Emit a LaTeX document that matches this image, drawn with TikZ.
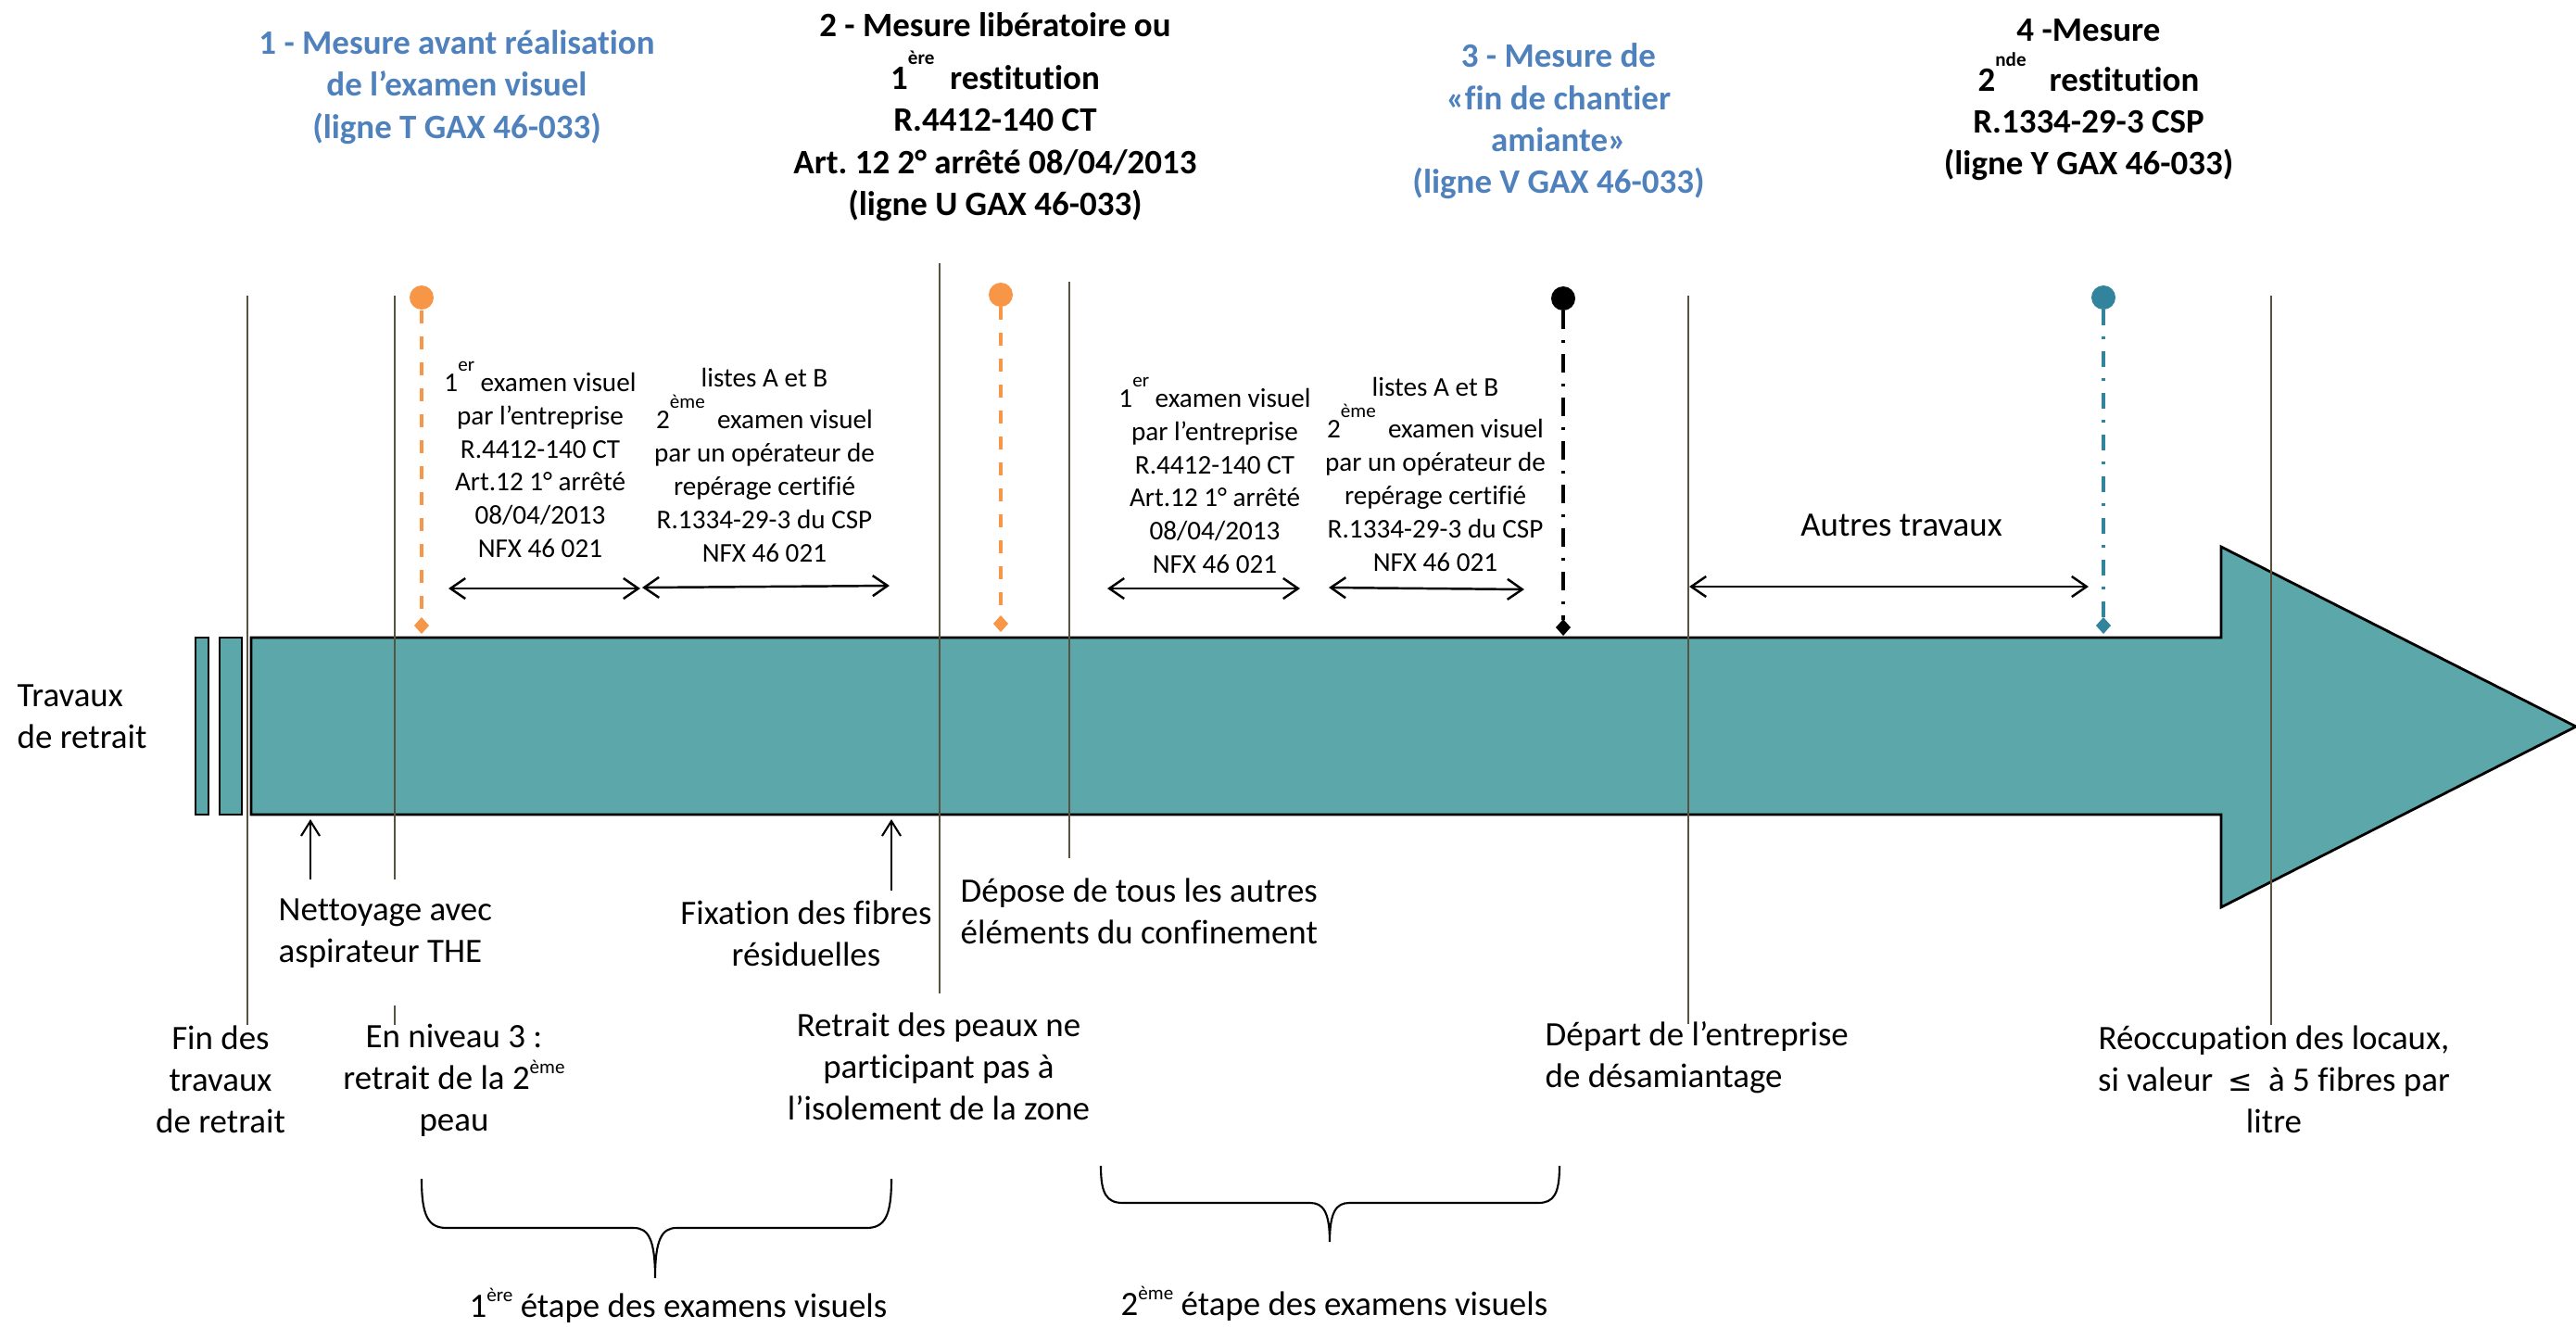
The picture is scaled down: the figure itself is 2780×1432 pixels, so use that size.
\documentclass[tikz,border=0pt]{standalone}
\usepackage{fontspec}
\setmainfont{Carlito}[Ligatures=NoCommon]
\newfontfamily\symfont{DejaVu Sans}
\usetikzlibrary{arrows.meta}
\frenchspacing
\definecolor{bodyteal}{HTML}{5CA7A9}
\definecolor{mkorange}{HTML}{F79646}
\definecolor{mkteal}{HTML}{31849B}
\definecolor{ttlblue}{HTML}{4F81BD}
\definecolor{olive}{HTML}{57533F}
\newcommand{\supr}[2]{\smash{\raisebox{#1}{\fontsize{6}{6}\selectfont #2}}}
\tikzset{
  lbl/.style={font=\fontsize{10.5}{12.8}\selectfont, align=center, inner sep=0pt},
  lbll/.style={font=\fontsize{10.5}{12.8}\selectfont, align=left, inner sep=0pt, anchor=west},
  smallblk/.style={font=\fontsize{8.3}{10.2}\selectfont, align=center, inner sep=0pt},
  ttl/.style={font=\bfseries\fontsize{10.5}{12.9}\selectfont, align=center, inner sep=0pt},
  tick/.style={draw=olive, line width=0.55pt},
  dbl/.style={draw=black, line width=0.7pt, {Straight Barb[length=0.16cm,width=0.22cm]}-{Straight Barb[length=0.16cm,width=0.22cm]}},
  upar/.style={draw=black, line width=0.6pt, -{Straight Barb[length=0.16cm,width=0.2cm]}},
  brc/.style={draw=black, line width=0.6pt},
  dashorange/.style={draw=mkorange, line width=1.1pt, dash pattern=on 0.14cm off 0.14cm},
  dashblack/.style={draw=black, line width=1.2pt, dash pattern=on 0.2cm off 0.12cm on 0.03cm off 0.12cm},
  dashteal/.style={draw=mkteal, line width=1.1pt, dash pattern=on 0.17cm off 0.12cm on 0.03cm off 0.13cm},
}
\begin{document}
\begin{tikzpicture}[x=0.01cm,y=-0.01cm]
\useasboundingbox (0,0) rectangle (2780,1432);

% big arrow
\filldraw[fill=bodyteal, draw=black, line width=0.8pt]
  (271,688) -- (2397,688) -- (2397,590) -- (2780,784) -- (2397,979) -- (2397,879) -- (271,879) -- cycle;
\filldraw[fill=bodyteal, draw=black, line width=0.8pt] (211,688) rectangle (225,879);
\filldraw[fill=bodyteal, draw=black, line width=0.8pt] (237,688) rectangle (261,879);

% vertical ticks
\draw[tick] (267,319) -- (267,1106);
\draw[tick] (426,319) -- (426,949);
\draw[tick] (426,1085) -- (426,1106);
\draw[tick] (1014,284) -- (1014,1072);
\draw[tick] (1154,304) -- (1154,926);
\draw[tick] (1822,319) -- (1822,1105);
\draw[tick] (2451,319) -- (2451,1106);

% markers
\coordinate (m1t) at (455,335); \coordinate (m1b) at (455,667);
\draw[dashorange] (m1t) -- (m1b);
\fill[mkorange] (455,321) circle (13);
\fill[mkorange] (455,666) -- (463,675) -- (455,684) -- (447,675) -- cycle;

\coordinate (m2t) at (1080,331); \coordinate (m2b) at (1080,665);
\draw[dashorange] (m2t) -- (m2b);
\fill[mkorange] (1080,318) circle (13);
\fill[mkorange] (1080,664) -- (1088,673) -- (1080,682) -- (1072,673) -- cycle;

\coordinate (m3t) at (1687,335); \coordinate (m3b) at (1687,669);
\draw[dashblack] (m3t) -- (m3b);
\fill[black] (1687,322) circle (13);
\fill[black] (1687,668) -- (1695,677) -- (1687,686) -- (1679,677) -- cycle;

\coordinate (m4t) at (2270,334); \coordinate (m4b) at (2270,667);
\draw[dashteal] (m4t) -- (m4b);
\fill[mkteal] (2270,321) circle (13);
\fill[mkteal] (2270,666) -- (2278,675) -- (2270,684) -- (2262,675) -- cycle;

% titles
\node[ttl, text=ttlblue] (t1) at (493,94) {1 - Mesure avant réalisation\\de l’examen visuel\\(ligne T GAX 46-033)};
\node[ttl] (t2) at (1074,126) {2 - Mesure libératoire ou\\[3.4pt]1\supr{7.7pt}{ère}\ \ restitution\\R.4412-140 CT\\Art. 12 2° arrêté 08/04/2013\\(ligne U GAX 46-033)};
\node[ttl, text=ttlblue] (t3) at (1682,131) {3 - Mesure de\\«fin de chantier\\amiante»\\(ligne V GAX 46-033)};
\node[ttl] (t4) at (2254,108) {4 -Mesure\\[2.3pt]2\supr{7.7pt}{nde}\ \ \ restitution\\R.1334-29-3 CSP\\(ligne Y GAX 46-033)};

% small blocks
\node[smallblk] (b1a) at (583,502) {1\supr{6.2pt}{er}\ examen visuel\\par l’entreprise\\R.4412-140 CT\\Art.12 1° arrêté\\08/04/2013\\NFX 46 021};
\node[smallblk] (b1b) at (825,502) {listes A et B\\[2.5pt]2\supr{6.2pt}{ème}\ \ examen visuel\\par un opérateur de\\repérage certifié\\R.1334-29-3 du CSP\\NFX 46 021};
\node[smallblk] (b2a) at (1311,519) {1\supr{6.2pt}{er}\ examen visuel\\par l’entreprise\\R.4412-140 CT\\Art.12 1° arrêté\\08/04/2013\\NFX 46 021};
\node[smallblk] (b2b) at (1549,512) {listes A et B\\[2.5pt]2\supr{6.2pt}{ème}\ \ examen visuel\\par un opérateur de\\repérage certifié\\R.1334-29-3 du CSP\\NFX 46 021};
\node[lbl] (autres) at (2052,567) {Autres travaux};

% double arrows
\coordinate (a1l) at (484,635); \coordinate (a1r) at (691,635);
\coordinate (a2l) at (693,634); \coordinate (a2r) at (960,632);
\coordinate (a3l) at (1195,635); \coordinate (a3r) at (1403,635);
\coordinate (a4l) at (1434,634); \coordinate (a4r) at (1645,636);
\coordinate (a5l) at (1823,633); \coordinate (a5r) at (2254,633);
\draw[dbl] (a1l) -- (a1r);
\draw[dbl] (a2l) -- (a2r);
\draw[dbl] (a3l) -- (a3r);
\draw[dbl] (a4l) -- (a4r);
\draw[dbl] (a5l) -- (a5r);

% left label
\node[lbll] (trav) at (18,773) {Travaux\\de retrait};

% up arrows
\coordinate (u1b) at (335,949); \coordinate (u1t) at (335,884);
\coordinate (u2b) at (962,961); \coordinate (u2t) at (962,884);
\draw[upar] (u1b) -- (u1t);
\draw[upar] (u2b) -- (u2t);

% lower labels
\node[lbll] (nett) at (300,1007) {Nettoyage avec\\aspirateur THE};
\node[lbl] (fix) at (870,1007) {Fixation des fibres\\résiduelles};
\node[lbll] (dep) at (1036,983) {Dépose de tous les autres\\éléments du confinement};
\node[lbl] (fin) at (238,1165) {Fin des\\travaux\\de retrait};
\node[lbl] (niv) at (490,1166) {En niveau 3 :\\retrait de la 2\supr{4.8pt}{ème}\\peau};
\node[lbl] (ret) at (1013,1151) {Retrait des peaux ne\\participant pas à\\l’isolement de la zone};
\node[lbll] (dpt) at (1667,1141) {Départ de l’entreprise\\de désamiantage};
\node[lbl] (reoc) at (2454,1165) {Réoccupation des locaux,\\si valeur \ {\symfont\fontsize{9}{9}\selectfont ≤}\ \ à 5 fibres par\\litre};

% braces
\draw[brc] (455,1272) .. controls (455,1312) and (462,1325) .. (482,1325) -- (684,1325)
  .. controls (700,1325) and (707,1338) .. (707,1379)
  .. controls (707,1338) and (714,1325) .. (730,1325) -- (935,1325)
  .. controls (955,1325) and (962,1312) .. (962,1272);
\draw[brc] (1188,1258) .. controls (1188,1288) and (1194,1298) .. (1212,1298) -- (1414,1298)
  .. controls (1428,1298) and (1435,1308) .. (1435,1340)
  .. controls (1435,1308) and (1442,1298) .. (1456,1298) -- (1660,1298)
  .. controls (1677,1298) and (1683,1288) .. (1683,1258);

\node[lbl] (e1) at (732,1412) {1\supr{4.8pt}{ère} étape des examens visuels};
\node[lbl] (e2) at (1440,1410) {2\supr{4.8pt}{ème} étape des examens visuels};
\end{tikzpicture}
\end{document}
